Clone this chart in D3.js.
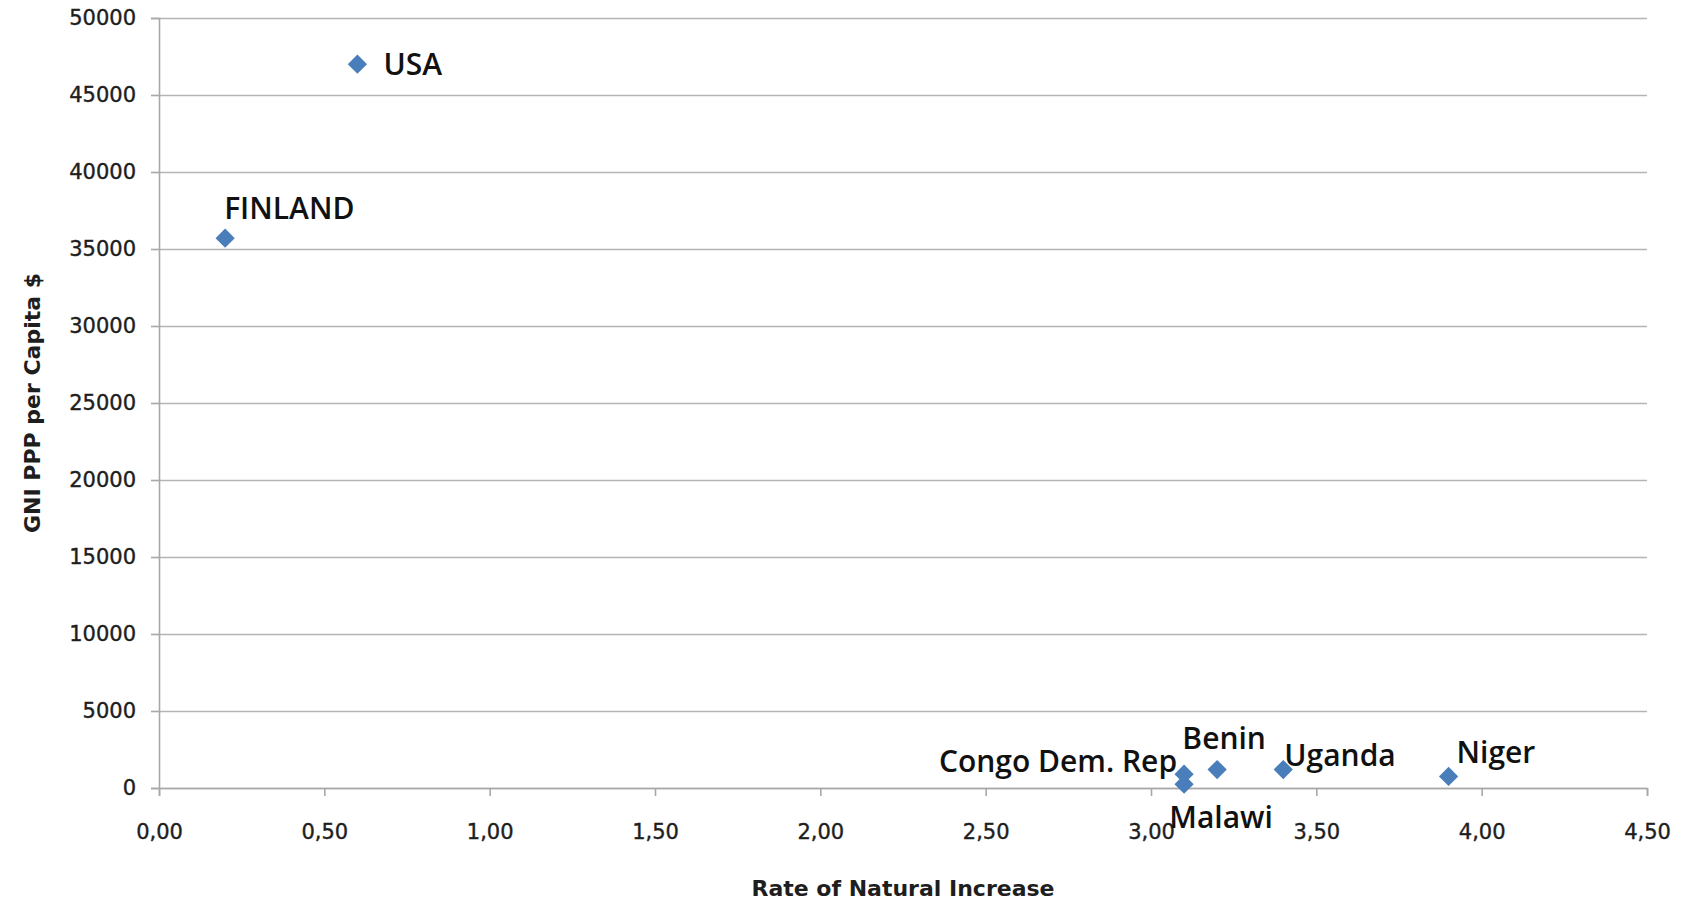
<!DOCTYPE html>
<html>
<head>
<meta charset="utf-8">
<script src="https://cdn.jsdelivr.net/npm/d3@7"></script>
<style>
	body { margin: 0; background: #fff; }
	svg { display: block; }
</style>
</head>
<body>
<div id="chart"></div>
<script>
// data
const countries = ["USA", "FINLAND", "Congo Dem. Rep", "Malawi", "Benin", "Uganda", "Niger"];
const rateOfIncrease = [0.6, 0.2, 3.1, 3.1, 3.2, 3.4, 3.9];
const gniPerCapita = [47000, 35700, 900, 250, 1200, 1200, 750];
const xTicks = [0, 0.5, 1, 1.5, 2, 2.5, 3, 3.5, 4, 4.5];
const yTicks = [0, 5000, 10000, 15000, 20000, 25000, 30000, 35000, 40000, 45000, 50000];

const width = 1686;
const height = 900;
const margin = { top: 18, right: 39, bottom: 112, left: 159 };

const svg = d3
	.select("#chart")
	.append("svg")
	.attr("width", width)
	.attr("height", height);

const x = d3
	.scaleLinear()
	.domain([0, 4.5])
	.range([margin.left, width - margin.right]);
const y = d3
	.scaleLinear()
	.domain([0, 50000])
	.range([height - margin.bottom, margin.top]);

// gridlines
svg.append("g")
	.attr("class", "grid")
	.attr("transform", `translate(${margin.left}, 0)`)
	.call(d3.axisLeft(y).tickValues(yTicks).tickSize(-(width - margin.left - margin.right)).tickFormat(""))
	.call((g) => g.select(".domain").remove())
	.selectAll("line")
	.attr("stroke", "#b4b4b4")
	.attr("stroke-width", 1.6);

// y axis
const yAxis = svg
	.append("g")
	.attr("class", "y-axis")
	.attr("transform", `translate(${margin.left}, 0)`)
	.call(d3.axisLeft(y).tickValues(yTicks).tickSize(8).tickPadding(15).tickFormat(d3.format("d")));
yAxis.select(".domain").attr("stroke", "#a8a8a8").attr("stroke-width", 1.6);
yAxis.selectAll("line").attr("stroke", "#a8a8a8").attr("stroke-width", 1.6);
yAxis.selectAll("text")
	.attr("font-family", "DejaVu Sans")
	.attr("font-size", "21px")
	.attr("fill", "#1e1e1e")
	.attr("stroke", "#1e1e1e")
	.attr("stroke-width", 0.4);

// x axis
const xAxis = svg
	.append("g")
	.attr("class", "x-axis")
	.attr("transform", `translate(0, ${height - margin.bottom})`)
	.call(d3.axisBottom(x).tickValues(xTicks).tickSize(8).tickPadding(28).tickFormat((d) => d.toFixed(2).replace(".", ",")));
xAxis.select(".domain").attr("stroke", "#a8a8a8").attr("stroke-width", 1.6);
xAxis.selectAll("line").attr("stroke", "#a8a8a8").attr("stroke-width", 1.6);
xAxis.selectAll("text")
	.attr("font-family", "DejaVu Sans")
	.attr("font-size", "21px")
	.attr("fill", "#1e1e1e")
	.attr("stroke", "#1e1e1e")
	.attr("stroke-width", 0.4);

// axis titles
svg.append("text")
	.attr("x", (margin.left + width - margin.right) / 2)
	.attr("y", 896)
	.attr("text-anchor", "middle")
	.attr("font-family", "DejaVu Sans")
	.attr("font-weight", "bold")
	.attr("font-size", "22px")
	.attr("fill", "#1e1e1e")
	.text("Rate of Natural Increase");

svg.append("text")
	.attr("transform", `translate(40, ${(margin.top + height - margin.bottom) / 2}) rotate(-90)`)
	.attr("text-anchor", "middle")
	.attr("font-family", "DejaVu Sans")
	.attr("font-weight", "bold")
	.attr("font-size", "22px")
	.attr("fill", "#1e1e1e")
	.text("GNI PPP per Capita $");

// points
const points = countries.map((c, i) => ({ name: c, rate: rateOfIncrease[i], gni: gniPerCapita[i] }));

svg.append("g")
	.attr("class", "points")
	.selectAll("path")
	.data(points)
	.enter()
	.append("path")
	.attr("d", d3.symbol().type(d3.symbolSquare).size(185))
	.attr("transform", (d) => `translate(${x(d.rate)}, ${y(d.gni)}) rotate(45)`)
	.attr("fill", "#4a7ebb");

// label placement, like the manual placement in the original
const labelPos = {
	"USA": { dx: 26, dy: 11, anchor: "start" },
	"FINLAND": { dx: -1, dy: -19, anchor: "start" },
	"Congo Dem. Rep": { dx: -7, dy: -2, anchor: "end" },
	"Malawi": { dx: 37, dy: 44, anchor: "middle" },
	"Benin": { dx: 7, dy: -21, anchor: "middle" },
	"Uganda": { dx: 1, dy: -4, anchor: "start" },
	"Niger": { dx: 8, dy: -13, anchor: "start" },
};

svg.append("g")
	.attr("class", "val")
	.selectAll("text")
	.data(points)
	.enter()
	.append("text")
	.attr("x", (d) => x(d.rate) + labelPos[d.name].dx)
	.attr("y", (d) => y(d.gni) + labelPos[d.name].dy)
	.attr("text-anchor", (d) => labelPos[d.name].anchor)
	.attr("font-family", "Open Sans")
	.attr("font-weight", 600)
	.attr("font-size", "30px")
	.attr("fill", "#111")
	.text((d) => d.name);
</script>
</body>
</html>
